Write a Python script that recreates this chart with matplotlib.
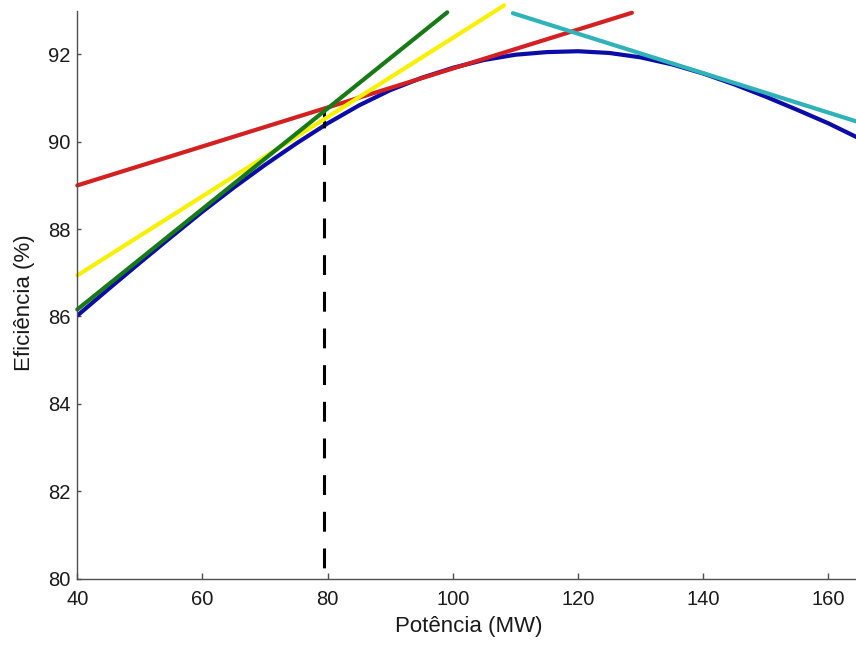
import matplotlib
matplotlib.use('Agg')
import matplotlib.pyplot as plt
import numpy as np

plt.rcParams['font.family'] = ['Liberation Sans', 'DejaVu Sans']

# Efficiency curve
power = [40, 45, 50, 55, 60, 65, 70, 75, 80, 85, 90, 95, 100, 105, 110,
         115, 120, 125, 130, 135, 140, 145, 150, 155, 160, 165]
efficiency = [86.02, 86.63, 87.23, 87.82, 88.40, 88.95, 89.47, 89.96, 90.42,
              90.83, 91.18, 91.46, 91.69, 91.87, 91.99, 92.05, 92.07, 92.03,
              91.93, 91.77, 91.56, 91.31, 91.03, 90.73, 90.42, 90.07]

# Tangent segments (start x, end x), (start y, end y)
green_x, green_y = [40, 99.1], [86.16, 92.96]
yellow_x, yellow_y = [40, 108.2], [86.94, 93.12]
red_x, red_y = [40, 128.6], [89.0, 92.95]
cyan_x, cyan_y = [109.6, 165], [92.94, 90.44]

# Operating point marker
p_op = 79.4
eff_op = 90.78

x_ticks = [40, 60, 80, 100, 120, 140, 160]
y_ticks = [80, 82, 84, 86, 88, 90, 92]

fig = plt.figure(figsize=(8.56, 6.46), dpi=100)
ax = fig.add_axes([77.3 / 856, 0.1042, 782.4 / 856, 0.8794])

lw = 3.0
ax.plot(power, efficiency, color='#0b0ba8', linewidth=lw, solid_capstyle='round',
        solid_joinstyle='round')
ax.plot([p_op, p_op], [eff_op, 80], color='black', linewidth=2.2,
        linestyle=(0, (6.5, 5.5)))
ax.plot(red_x, red_y, color='#d42020', linewidth=lw, clip_on=False,
        solid_capstyle='round')
ax.plot(yellow_x, yellow_y, color='#f7f000', linewidth=lw, clip_on=False,
        solid_capstyle='round')
ax.plot(green_x, green_y, color='#177a17', linewidth=lw, clip_on=False,
        solid_capstyle='round')
ax.plot(cyan_x, cyan_y, color='#2fb2b8', linewidth=lw, clip_on=False,
        solid_capstyle='round')

ax.set_xlim(40, 165)
ax.set_ylim(80, 93)
ax.set_xticks(x_ticks)
ax.set_yticks(y_ticks)

for side in ['top', 'right']:
    ax.spines[side].set_visible(False)
for side in ['left', 'bottom']:
    ax.spines[side].set_color('#505050')
    ax.spines[side].set_linewidth(1.0)

ax.tick_params(axis='both', direction='in', colors='#505050',
               labelcolor='#1a1a1a', labelsize=14.5, width=1.0)
ax.tick_params(axis='x', length=4.5, pad=8)
ax.tick_params(axis='y', length=3, pad=5)

ax.set_xlabel('Potência (MW)', fontsize=16, color='#1a1a1a')
ax.set_ylabel('Eficiência (%)', fontsize=16, color='#1a1a1a')
ax.xaxis.set_label_coords(0.5, -0.085)
ax.xaxis.label.set_verticalalignment('center')
ax.yaxis.set_label_coords(-0.068, 0.485)
ax.yaxis.label.set_verticalalignment('center')

plt.savefig('out.png', dpi=100)
plt.close()
